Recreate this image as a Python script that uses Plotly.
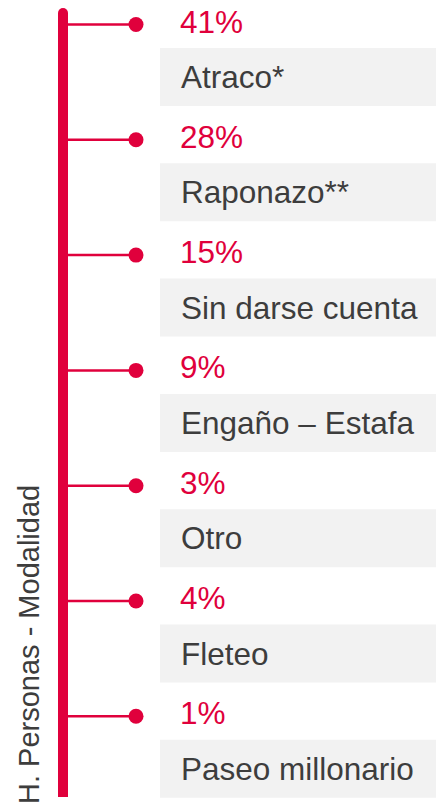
import plotly.graph_objects as go

categories = ["Atraco*", "Raponazo**", "Sin darse cuenta", "Engaño – Estafa", "Otro", "Fleteo", "Paseo millonario"]
values = [41, 28, 15, 9, 3, 4, 1]
value_labels = [f"{v}%" for v in values]
axis_title = "H. Personas - Modalidad"

RED = "#E0003C"
GRAY_TXT = "#3D3D3D"
BOX = "#F2F2F2"
FONT = "Arial, Liberation Sans, sans-serif"

W, H = 436, 806
ROW = 115.3      # px per row
TOP = 48.0       # px of first box top

n = len(categories)
rows = list(range(n))
dot_off = -23.5 / ROW
box_h = 58 / ROW

# x axis in pixel units, y axis in row units
y_top = -TOP / ROW
y_bot = (H - TOP) / ROW

fig = go.Figure()

# connectors
xs, ys = [], []
for i in rows:
    xs += [66, 136, None]
    ys += [i + dot_off, i + dot_off, None]
fig.add_trace(go.Scatter(x=xs, y=ys, mode="lines", line=dict(color=RED, width=2.5),
                         hoverinfo="skip", showlegend=False))
# dots
fig.add_trace(go.Scatter(x=[136] * n, y=[i + dot_off for i in rows], mode="markers",
                         marker=dict(color=RED, size=15, line=dict(width=0)),
                         text=categories, customdata=values,
                         hovertemplate="%{text}: %{customdata}%<extra></extra>", showlegend=False))

shapes = []
annotations = []
for i, (cat, lab) in enumerate(zip(categories, value_labels)):
    shapes.append(dict(type="rect", xref="x", yref="y", x0=160, x1=W, y0=i, y1=i + box_h,
                       fillcolor=BOX, line=dict(width=0), layer="below"))
    annotations.append(dict(x=178, y=i + dot_off - 3 / ROW, xref="x", yref="y", text=lab,
                            showarrow=False, xanchor="left", yanchor="middle",
                            font=dict(family=FONT, size=31.5, color=RED)))
    annotations.append(dict(x=179, y=i + box_h / 2, xref="x", yref="y", text=cat,
                            showarrow=False, xanchor="left", yanchor="middle",
                            font=dict(family=FONT, size=31.5, color=GRAY_TXT)))

# vertical bar with rounded top
shapes.append(dict(type="rect", xref="x", yref="paper", x0=58, x1=68,
                   y0=1 - 797 / H, y1=1 - 13 / H, fillcolor=RED, line=dict(width=0)))
shapes.append(dict(type="circle", xref="x", yref="paper", x0=58, x1=68,
                   y0=1 - 18 / H, y1=1 - 8 / H, fillcolor=RED, line=dict(width=0)))

annotations.append(dict(x=29, y=1 - 645 / H, xref="x", yref="paper", text=axis_title,
                        showarrow=False, textangle=-90, xanchor="center", yanchor="middle",
                        font=dict(family=FONT, size=29, color=GRAY_TXT)))

fig.update_layout(
    width=W, height=H, margin=dict(l=0, r=0, t=0, b=0),
    paper_bgcolor="white", plot_bgcolor="white",
    xaxis=dict(range=[0, W], visible=False, fixedrange=True),
    yaxis=dict(range=[y_bot, y_top], visible=False, fixedrange=True),
    shapes=shapes, annotations=annotations, showlegend=False,
)

fig.write_html("out.html", config={"displayModeBar": False},
               post_script="document.body.style.margin='0';document.body.style.overflow='hidden';")
